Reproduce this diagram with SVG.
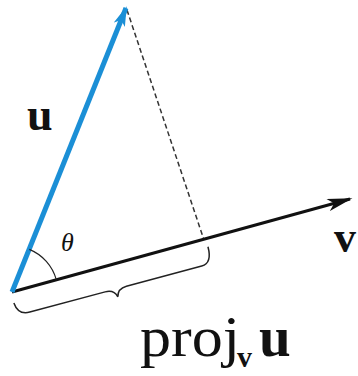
<svg xmlns="http://www.w3.org/2000/svg" width="358" height="376" viewBox="0 0 358 376">
<style>
.lbl{font-family:"Liberation Serif","Times New Roman",serif;fill:#111}
.b{font-weight:bold}
</style>
<defs>
<marker id="ab" viewBox="0 0 10 6" refX="9" refY="3" markerWidth="4" markerHeight="2.4" orient="auto" markerUnits="strokeWidth"><path d="M0,0 L10,3 L0,6 L2.5,3 Z" fill="#1b8fd6"/></marker>
<marker id="ak" viewBox="0 0 10 5" refX="9" refY="2.5" markerWidth="8.5" markerHeight="4.2" orient="auto" markerUnits="strokeWidth"><path d="M0,0 L10,2.5 L0,5 L2.5,2.5 Z" fill="#111"/></marker>
</defs>
<rect width="358" height="376" fill="#fff"/>
<g id="connectors">
<line x1="127" y1="10" x2="204" y2="240" stroke="#333" stroke-width="1.5" stroke-dasharray="5,3"/>
<line x1="12" y1="292" x2="350" y2="199" stroke="#111" stroke-width="3" marker-end="url(#ak)"/>
<line x1="12" y1="292" x2="126" y2="8" stroke="#1b8fd6" stroke-width="5" marker-end="url(#ab)"/>
<path d="M29.3,249.4 A46,46 0 0 1 56.3,279.7" fill="none" stroke="#222" stroke-width="1.2"/>
<path transform="translate(12,292) rotate(-15)" d="M-1,11 Q0,24 12,24 L90,24 Q99,24 101,32 Q103,24 112,24 L190,24 Q201,24 201,7" fill="none" stroke="#222" stroke-width="1.5"/>
</g>
<g id="theta"><text class="lbl" x="61" y="251" font-size="26" font-style="italic">θ</text></g>
<g id="label-u"><text class="lbl b" x="27" y="130" font-size="46">u</text></g>
<g id="label-v"><text class="lbl b" x="334" y="252" font-size="44">v</text></g>
<g id="label-proj"><text class="lbl" y="356" font-size="58"><tspan x="140" textLength="100" lengthAdjust="spacingAndGlyphs">proj</tspan><tspan class="b" x="237" y="367" font-size="30">v</tspan><tspan class="b" x="259" y="356" font-size="57">u</tspan></text></g>
</svg>
